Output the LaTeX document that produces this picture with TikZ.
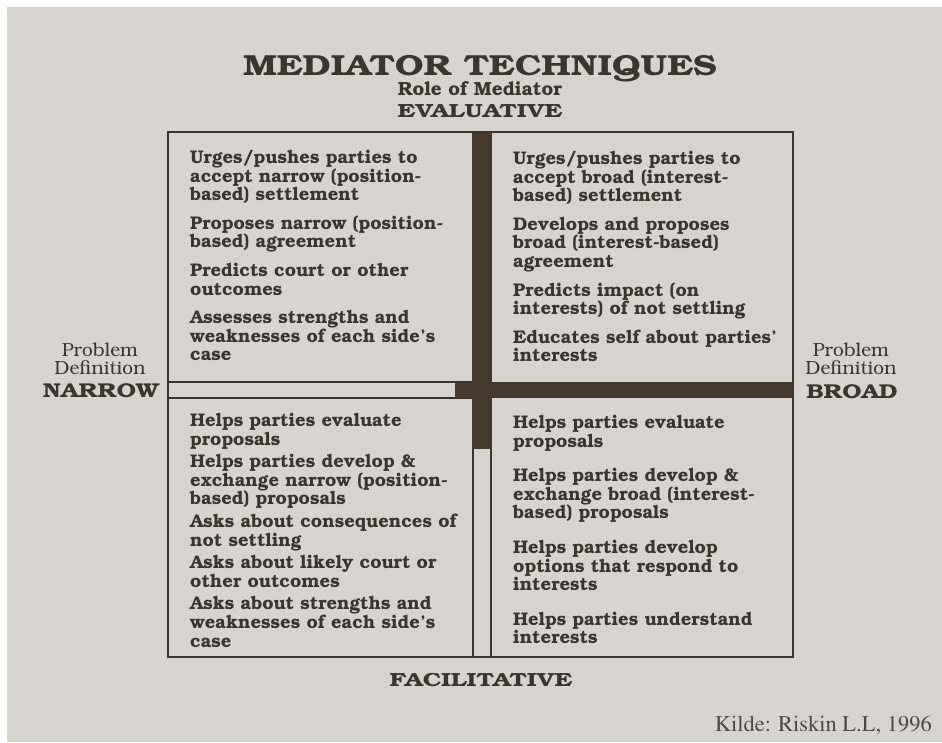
\documentclass[tikz,border=0pt]{standalone}
\usepackage[T1]{fontenc}
\usepackage{bookman}
\usepackage{graphicx}
\usepackage{tikz}
\usetikzlibrary{positioning}
\definecolor{paper}{RGB}{215, 212, 208}
\definecolor{ink}{RGB}{60, 52, 46}
\definecolor{barbrown}{RGB}{70, 57, 46}

% wide capitals used for the headings
\newcommand{\widecaps}[2][1.3]{\scalebox{#1}[1]{#2}}

\tikzset{
  quadtext/.style={anchor=north west, align=left, inner sep=0pt, text=ink,
                   font=\fontsize{18.3}{18.8}\selectfont\bfseries},
  sidetext/.style={anchor=south, align=center, inner sep=0pt, text=ink,
                   font=\fontsize{19}{18}\selectfont},
  sidehead/.style={anchor=base, inner sep=0pt, text=ink, font=\fontsize{20}{22}\selectfont\bfseries},
  axishead/.style={anchor=base, inner sep=0pt, text=ink, font=\fontsize{19}{20}\selectfont\bfseries},
}

\begin{document}
\begin{tikzpicture}[x=1pt, y=-1pt]
  % Sheet of paper with a thin white edge
  \fill[white]  (  0,   0) rectangle (942, 742);
  \fill[paper]  (  7,   7) rectangle (942, 742);
  \useasboundingbox (0, 0) rectangle (942, 742);

  % Headings
  \node[anchor=base, inner sep=0pt, text=ink, font=\fontsize{29}{31}\selectfont\bfseries]
        (title) at (480,  75) {\widecaps[1.24]{MEDIATOR TECHNIQUES}};
  \node[anchor=base, inner sep=0pt, text=ink, font=\fontsize{19}{21}\selectfont\bfseries]
        (role)  at (480,  95) {Role of Mediator};
  \node[axishead] (evaluative)   at (480, 117) {\widecaps{EVALUATIVE}};
  \node[axishead] (facilitative) at (481, 686) {\widecaps{FACILITATIVE}};

  % Frame and the cross dividing it
  \draw[ink, line width=2pt]      (168, 132) rectangle (793, 657);
  \fill[barbrown]                  (472, 132) rectangle (492, 449);
  \fill[barbrown]                  (455, 382) rectangle (793, 398);
  \draw[ink, line width=1.2pt]     (168, 382) -- (472, 382)
                                   (168, 398) -- (472, 398);
  \draw[ink, line width=1.2pt]     (473, 449) -- (473, 657)
                                   (491, 449) -- (491, 657);

  % Problem definition, left and right
  \node[sidetext] (probleft)   at (100, 375) {Problem\\Definition};
  \node[sidehead] (narrow)     at (101, 397) {\widecaps[1.22]{NARROW}};
  \node[sidetext] (probright)  at (851, 375) {Problem\\Definition};
  \node[sidehead] (broad)      at (852, 398) {\widecaps[1.2]{BROAD}};

  % Evaluative, narrow
  \node[quadtext] (evalnarrow) at (190, 150) {%
    Urges/pushes parties to\\ accept narrow (position-\\ based) settlement\\[9.5pt]
    Proposes narrow (position-\\ based) agreement\\[9.5pt]
    Predicts court or other\\ outcomes\\[9.5pt]
    Assesses strengths and\\ weaknesses of each side's\\ case};

  % Evaluative, broad
  \node[quadtext] (evalbroad)  at (513, 151) {%
    Urges/pushes parties to\\ accept broad (interest-\\ based) settlement\\[9.5pt]
    Develops and proposes\\ broad (interest-based)\\ agreement\\[9.5pt]
    Predicts impact (on\\ interests) of not settling\\[9.5pt]
    Educates self about parties'\\ interests};

  % Facilitative, narrow
  \node[quadtext] (facilnarrow) at (190, 413) {%
    Helps parties evaluate\\ proposals\\[3.5pt]
    Helps parties develop \&\\ exchange narrow (position-\\ based) proposals\\[3.5pt]
    Asks about consequences of\\ not settling\\[3.5pt]
    Asks about likely court or\\ other outcomes\\[3.5pt]
    Asks about strengths and\\ weaknesses of each side's\\ case};

  % Facilitative, broad
  \node[quadtext] (facilbroad) at (513, 415) {%
    Helps parties evaluate\\ proposals\\[15.5pt]
    Helps parties develop \&\\ exchange broad (interest-\\ based) proposals\\[15.5pt]
    Helps parties develop\\ options that respond to\\ interests\\[15.5pt]
    Helps parties understand\\ interests};

  % Source
  \node[inner sep=0pt, anchor=base east, text=ink!90,
        font=\fontsize{22.5}{24}\fontfamily{ptm}\selectfont]
        (source) at (932, 731) {Kilde: Riskin L.L, 1996};
\end{tikzpicture}
\end{document}
